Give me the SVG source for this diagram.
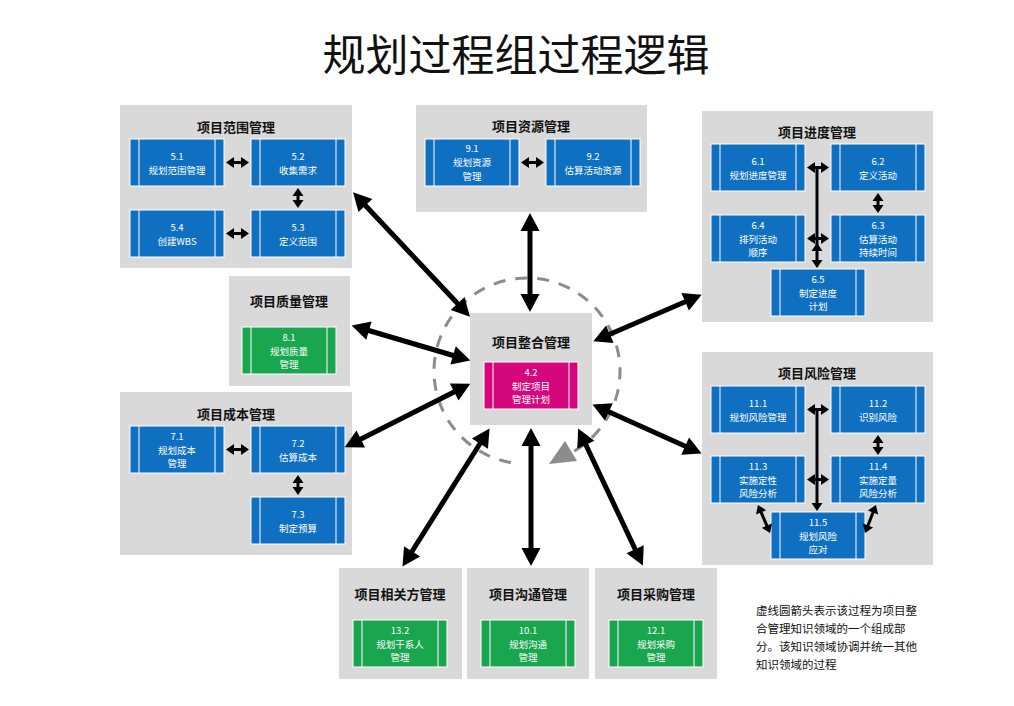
<svg xmlns="http://www.w3.org/2000/svg" width="1014" height="706" viewBox="0 0 1014 706">
<style>
text,tspan{font-family:"Noto Sans CJK SC","Noto Sans",sans-serif;dominant-baseline:central;text-anchor:middle}
.grp{fill:#D9D9D9}
.b{fill:#0F6FC0;stroke:#fff;stroke-width:1}
.g{fill:#1AA64E;stroke:#fff;stroke-width:1}
.m{fill:#D4077D;stroke:#fff;stroke-width:1}
.il{stroke:#fff;stroke-width:1;fill:none}
.t{font-size:13px;font-weight:bold;fill:#111}
.bt{font-size:9.5px;fill:#fff}
.big{stroke:#000;stroke-width:5;fill:none;marker-start:url(#bh);marker-end:url(#bh)}
.sm{stroke:#000;stroke-width:3;fill:none;marker-start:url(#sh);marker-end:url(#sh)}
.ln{stroke:#000;stroke-width:3;fill:none}
.note,.note tspan{font-size:11.5px;fill:#111;text-anchor:start}
</style>
<defs>
<marker id="bh" markerUnits="userSpaceOnUse" orient="auto-start-reverse" markerWidth="40" markerHeight="40" refX="0" refY="0" viewBox="-20 -20 40 40" overflow="visible"><path d="M-2,-9.5 L16,0 L-2,9.5 z" fill="#000"/></marker>
<marker id="sh" markerUnits="userSpaceOnUse" orient="auto-start-reverse" markerWidth="20" markerHeight="20" refX="0" refY="0" viewBox="-10 -10 20 20" overflow="visible"><path d="M-1,-5.5 L7,0 L-1,5.5 z" fill="#000"/></marker>
</defs>
<rect width="1014" height="706" fill="#fff"/>
<text x="516" y="52" style="font-size:43px;fill:#111">规划过程组过程逻辑</text>

<g id="cycle">
<path d="M510.9,462.6 A93,93 0 1 1 570.7,453.1" fill="none" stroke="#8C8C8C" stroke-width="3" stroke-dasharray="12 10"/>
<polygon points="549,464 577,461 565,441" fill="#8C8C8C"/>
</g>

<g id="scope">
<rect class="grp" x="120" y="105" width="232" height="163"/>
<text class="t" x="236" y="126">项目范围管理</text>
<g id="p5-1"><rect class="b" x="130" y="139" width="94" height="47"/><path class="il" d="M139,139V186M215,139V186"/><text class="bt" x="177" y="155.5">5.1<tspan x="177" dy="14">规划范围管理</tspan></text></g>
<g id="p5-2"><rect class="b" x="251" y="139" width="94" height="47"/><path class="il" d="M260,139V186M336,139V186"/><text class="bt" x="298" y="155.5">5.2<tspan x="298" dy="14">收集需求</tspan></text></g>
<g id="p5-4"><rect class="b" x="130" y="210" width="94" height="47"/><path class="il" d="M139,210V257M215,210V257"/><text class="bt" x="177" y="226.5">5.4<tspan x="177" dy="14">创建WBS</tspan></text></g>
<g id="p5-3"><rect class="b" x="251" y="210" width="94" height="47"/><path class="il" d="M260,210V257M336,210V257"/><text class="bt" x="298" y="226.5">5.3<tspan x="298" dy="14">定义范围</tspan></text></g>
</g>

<g id="resource">
<rect class="grp" x="416" y="105" width="231" height="107"/>
<text class="t" x="531" y="125">项目资源管理</text>
<g id="p9-1"><rect class="b" x="425" y="139" width="94" height="47"/><path class="il" d="M434,139V186M510,139V186"/><text class="bt" x="472" y="148.2">9.1<tspan x="472" dy="13.8">规划资源</tspan><tspan x="472" dy="13.8">管理</tspan></text></g>
<g id="p9-2"><rect class="b" x="546" y="139" width="94" height="47"/><path class="il" d="M555,139V186M631,139V186"/><text class="bt" x="593" y="155.5">9.2<tspan x="593" dy="14">估算活动资源</tspan></text></g>
</g>

<g id="schedule">
<rect class="grp" x="702" y="111" width="231" height="211"/>
<text class="t" x="817" y="131">项目进度管理</text>
<g id="p6-1"><rect class="b" x="711" y="144" width="94" height="47"/><path class="il" d="M720,144V191M796,144V191"/><text class="bt" x="758" y="160.5">6.1<tspan x="758" dy="14">规划进度管理</tspan></text></g>
<g id="p6-2"><rect class="b" x="831" y="144" width="94" height="47"/><path class="il" d="M840,144V191M916,144V191"/><text class="bt" x="878" y="160.5">6.2<tspan x="878" dy="14">定义活动</tspan></text></g>
<g id="p6-4"><rect class="b" x="711" y="215" width="94" height="47"/><path class="il" d="M720,215V262M796,215V262"/><text class="bt" x="758" y="224.7">6.4<tspan x="758" dy="13.8">排列活动</tspan><tspan x="758" dy="13.8">顺序</tspan></text></g>
<g id="p6-3"><rect class="b" x="831" y="215" width="94" height="47"/><path class="il" d="M840,215V262M916,215V262"/><text class="bt" x="878" y="224.7">6.3<tspan x="878" dy="13.8">估算活动</tspan><tspan x="878" dy="13.8">持续时间</tspan></text></g>
<g id="p6-5"><rect class="b" x="771" y="269" width="94" height="47"/><path class="il" d="M780,269V316M856,269V316"/><text class="bt" x="818" y="278.7">6.5<tspan x="818" dy="13.8">制定进度</tspan><tspan x="818" dy="13.8">计划</tspan></text></g>
</g>

<g id="quality">
<rect class="grp" x="229" y="276" width="121" height="110"/>
<text class="t" x="289" y="300">项目质量管理</text>
<g id="p8-1"><rect class="g" x="242" y="327" width="94" height="47"/><path class="il" d="M251,327V374M327,327V374"/><text class="bt" x="289" y="336.7">8.1<tspan x="289" dy="13.8">规划质量</tspan><tspan x="289" dy="13.8">管理</tspan></text></g>
</g>

<g id="cost">
<rect class="grp" x="120" y="392" width="232" height="163"/>
<text class="t" x="236" y="413">项目成本管理</text>
<g id="p7-1"><rect class="b" x="130" y="426" width="94" height="47"/><path class="il" d="M139,426V473M215,426V473"/><text class="bt" x="177" y="435.7">7.1<tspan x="177" dy="13.8">规划成本</tspan><tspan x="177" dy="13.8">管理</tspan></text></g>
<g id="p7-2"><rect class="b" x="251" y="426" width="94" height="47"/><path class="il" d="M260,426V473M336,426V473"/><text class="bt" x="298" y="442.5">7.2<tspan x="298" dy="14">估算成本</tspan></text></g>
<g id="p7-3"><rect class="b" x="251" y="497" width="94" height="47"/><path class="il" d="M260,497V544M336,497V544"/><text class="bt" x="298" y="513.5">7.3<tspan x="298" dy="14">制定预算</tspan></text></g>
</g>

<g id="integration">
<rect class="grp" x="470" y="313" width="122" height="112"/>
<text class="t" x="531" y="341">项目整合管理</text>
<g id="p4-2"><rect class="m" x="484" y="362" width="94" height="47"/><path class="il" d="M493,362V409M569,362V409"/><text class="bt" x="531" y="371.7">4.2<tspan x="531" dy="13.8">制定项目</tspan><tspan x="531" dy="13.8">管理计划</tspan></text></g>
</g>

<g id="risk">
<rect class="grp" x="702" y="352" width="231" height="213"/>
<text class="t" x="817" y="372">项目风险管理</text>
<g id="p11-1"><rect class="b" x="711" y="386" width="94" height="47"/><path class="il" d="M720,386V433M796,386V433"/><text class="bt" x="758" y="402.5">11.1<tspan x="758" dy="14">规划风险管理</tspan></text></g>
<g id="p11-2"><rect class="b" x="831" y="386" width="94" height="47"/><path class="il" d="M840,386V433M916,386V433"/><text class="bt" x="878" y="402.5">11.2<tspan x="878" dy="14">识别风险</tspan></text></g>
<g id="p11-3"><rect class="b" x="711" y="456" width="94" height="47"/><path class="il" d="M720,456V503M796,456V503"/><text class="bt" x="758" y="465.7">11.3<tspan x="758" dy="13.8">实施定性</tspan><tspan x="758" dy="13.8">风险分析</tspan></text></g>
<g id="p11-4"><rect class="b" x="831" y="456" width="94" height="47"/><path class="il" d="M840,456V503M916,456V503"/><text class="bt" x="878" y="465.7">11.4<tspan x="878" dy="13.8">实施定量</tspan><tspan x="878" dy="13.8">风险分析</tspan></text></g>
<g id="p11-5"><rect class="b" x="771" y="512" width="94" height="47"/><path class="il" d="M780,512V559M856,512V559"/><text class="bt" x="818" y="521.7">11.5<tspan x="818" dy="13.8">规划风险</tspan><tspan x="818" dy="13.8">应对</tspan></text></g>
</g>

<g id="stakeholder">
<rect class="grp" x="339" y="568" width="123" height="111"/>
<text class="t" x="400" y="593">项目相关方管理</text>
<g id="p13-2"><rect class="g" x="353" y="620" width="94" height="47"/><path class="il" d="M362,620V667M438,620V667"/><text class="bt" x="400" y="629.7">13.2<tspan x="400" dy="13.8">规划干系人</tspan><tspan x="400" dy="13.8">管理</tspan></text></g>
</g>

<g id="communication">
<rect class="grp" x="467" y="568" width="122" height="111"/>
<text class="t" x="528" y="593">项目沟通管理</text>
<g id="p10-1"><rect class="g" x="481" y="620" width="94" height="47"/><path class="il" d="M490,620V667M566,620V667"/><text class="bt" x="528" y="629.7">10.1<tspan x="528" dy="13.8">规划沟通</tspan><tspan x="528" dy="13.8">管理</tspan></text></g>
</g>

<g id="procurement">
<rect class="grp" x="595" y="568" width="122" height="111"/>
<text class="t" x="656" y="593">项目采购管理</text>
<g id="p12-1"><rect class="g" x="609" y="620" width="94" height="47"/><path class="il" d="M618,620V667M694,620V667"/><text class="bt" x="656" y="629.7">12.1<tspan x="656" dy="13.8">规划采购</tspan><tspan x="656" dy="13.8">管理</tspan></text></g>
</g>

<g id="note">
<text class="note" x="756" y="610">虚线圆箭头表示该过程为项目整<tspan x="756" dy="18">合管理知识领域的一个组成部</tspan><tspan x="756" dy="18">分。该知识领域协调并统一其他</tspan><tspan x="756" dy="18">知识领域的过程</tspan></text>
</g>

<g id="connectors">
<line class="big" x1="364" y1="204" x2="459" y2="305"/>
<line class="big" x1="530" y1="229" x2="530" y2="296"/>
<line class="big" x1="687" y1="301" x2="608" y2="335"/>
<line class="big" x1="367" y1="330" x2="455" y2="356"/>
<line class="big" x1="359" y1="440" x2="456" y2="391"/>
<line class="big" x1="607" y1="411" x2="687" y2="447"/>
<line class="big" x1="411" y1="553" x2="481" y2="442"/>
<line class="big" x1="531" y1="550" x2="531" y2="444"/>
<line class="big" x1="636" y1="551" x2="585" y2="443"/>

<line class="sm" x1="233" y1="162.5" x2="242" y2="162.5"/>
<line class="sm" x1="298" y1="195" x2="298" y2="201"/>
<line class="sm" x1="233" y1="233.5" x2="242" y2="233.5"/>
<line class="sm" x1="528" y1="162.5" x2="537" y2="162.5"/>
<line class="sm" x1="814" y1="167.5" x2="822" y2="167.5"/>
<line class="ln" x1="817" y1="167.5" x2="817" y2="250"/>
<line class="sm" x1="814" y1="238.5" x2="822" y2="238.5"/>
<line class="sm" x1="817" y1="250" x2="817" y2="261"/>
<line class="sm" x1="878" y1="200" x2="878" y2="206"/>
<line class="sm" x1="233" y1="449.5" x2="242" y2="449.5"/>
<line class="sm" x1="298" y1="482" x2="298" y2="488"/>
<line class="sm" x1="814" y1="409.5" x2="822" y2="409.5"/>
<line class="ln" x1="817" y1="409.5" x2="817" y2="504" marker-end="url(#sh)"/>
<line class="sm" x1="814" y1="479.5" x2="822" y2="479.5"/>
<line class="sm" x1="878" y1="442" x2="878" y2="448"/>
<line class="sm" x1="760.7" y1="511.4" x2="767.3" y2="526.6"/>
<line class="sm" x1="873.4" y1="511.5" x2="867.6" y2="526.5"/>
</g>
</svg>
